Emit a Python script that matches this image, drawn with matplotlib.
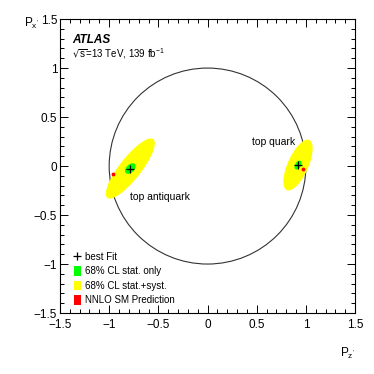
import numpy as np
import matplotlib.pyplot as plt
from matplotlib.patches import Ellipse, Circle, Patch
from matplotlib.lines import Line2D
from matplotlib.ticker import MultipleLocator

plt.rcParams['font.family'] = ['Liberation Sans', 'DejaVu Sans']
plt.rcParams['mathtext.default'] = 'regular'

# quark, antiquark
names = ["top quark", "top antiquark"]
best_x = [0.92, -0.785]
best_y = [0.01, -0.025]
# 68% CL stat.+syst. ellipses (full axes, degrees)
syst_w = [0.56, 0.76]
syst_h = [0.21, 0.22]
syst_angle = [66, 52]
# 68% CL stat. only ellipses
stat_w = [0.10, 0.13]
stat_h = [0.06, 0.08]
stat_angle = [60, 45]
# NNLO SM prediction
sm_x = [0.97, -0.96]
sm_y = [-0.035, -0.08]
# where the names go
label_x = [0.45, -0.79]
label_y = [0.25, -0.32]

circle_radius = 1.0
tick_values = [-1.5, -1, -0.5, 0, 0.5, 1, 1.5]
tick_labels = ["\u22121.5", "\u22121", "\u22120.5", "0", "0.5", "1", "1.5"]

fig = plt.figure(figsize=(3.74, 3.74), dpi=100)
ax = fig.add_axes([0.1604, 0.163, 0.789, 0.786])

ax.add_patch(Circle((0, 0), circle_radius, fill=False, color="#333333", lw=0.8, zorder=1))

for i in range(len(names)):
    ax.add_patch(Ellipse((best_x[i], best_y[i]), syst_w[i], syst_h[i], angle=syst_angle[i],
                         facecolor="#ffff00", edgecolor="none", zorder=2))
    ax.add_patch(Ellipse((best_x[i], best_y[i]), stat_w[i], stat_h[i], angle=stat_angle[i],
                         facecolor="#00ff00", edgecolor="none", zorder=3))
    ax.text(label_x[i], label_y[i], names[i], fontsize=7.5, ha="left", va="center")

ax.plot(best_x, best_y, "+", color="black", markersize=6, mew=0.9, zorder=4)
ax.plot(sm_x, sm_y, "o", color="#ff0000", markersize=2.8, mew=0, zorder=5)

ax.set_xlim(-1.5, 1.5)
ax.set_ylim(-1.5, 1.5)
ax.set_xticks(tick_values)
ax.set_xticklabels(tick_labels)
ax.set_yticks(tick_values)
ax.set_yticklabels(tick_labels)
ax.xaxis.set_minor_locator(MultipleLocator(0.1))
ax.yaxis.set_minor_locator(MultipleLocator(0.1))
ax.tick_params(which="both", direction="in", top=True, right=True, width=0.7)
ax.tick_params(which="major", length=5.5, labelsize=8.5)
ax.tick_params(which="minor", length=2.8)
ax.tick_params(axis="x", pad=4)
ax.tick_params(axis="y", pad=2)
for sp in ax.spines.values():
    sp.set_linewidth(0.8)

ax.set_xlabel("$P_{z'}$", fontsize=8.5, ha="right")
ax.xaxis.set_label_coords(1.0, -0.112)
ax.set_ylabel("$P_{x'}$", fontsize=8.5, rotation=0, ha="right", va="center")
ax.yaxis.set_label_coords(-0.07, 0.986)

ax.text(-1.378, 1.285, "ATLAS", fontsize=8.5, fontweight="bold", fontstyle="italic",
        ha="left", va="center")
ax.text(-1.378, 1.15, r"$\sqrt{s}$=13 TeV, 139 fb$^{-1}$", fontsize=7,
        ha="left", va="center")

handles = [
    Line2D([], [], marker="+", color="black", ls="none", markersize=6, mew=0.9),
    Patch(facecolor="#00ff00", edgecolor="none"),
    Patch(facecolor="#ffff00", edgecolor="none"),
    Patch(facecolor="#ff0000", edgecolor="none"),
]
labels = ["best Fit", "68% CL stat. only", "68% CL stat.+syst.", "NNLO SM Prediction"]
ax.legend(handles, labels, loc="lower left", bbox_to_anchor=(0.04, 0.02), frameon=False,
          fontsize=7, handlelength=0.75, handleheight=1.1, labelspacing=0.45,
          handletextpad=0.4, borderpad=0.2, borderaxespad=0)

fig.savefig("out.png", dpi=100)
